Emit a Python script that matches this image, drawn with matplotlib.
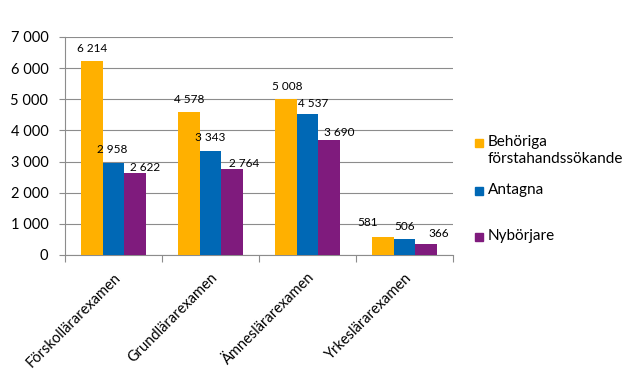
import numpy as np
import matplotlib.pyplot as plt
from matplotlib.patches import Rectangle

# data
categories = ["Förskollärarexamen", "Grundlärarexamen", "Ämneslärarexamen", "Yrkeslärarexamen"]
series_names = ["Behöriga\nförstahandssökande", "Antagna", "Nybörjare"]
behoriga = [6214, 4578, 5008, 581]
antagna = [2958, 3343, 4537, 506]
nyborjare = [2622, 2764, 3690, 366]
colors = ["#FFB000", "#0068B5", "#7F1B7D"]

yticks = [0, 1000, 2000, 3000, 4000, 5000, 6000, 7000]

# label nudges in pixels (dx, dy), like excel placed them
label_shift = [
    [(0, 13), (0, 13), (1, 13), (-16, 14)],
    [(-1, 13), (0, 13), (6, 10), (0, 13)],
    [(10, 6), (12, 5), (10, 8), (13, 10)],
]


def fmt(v):
    return "{:,}".format(v).replace(",", " ")


plt.rcParams['font.family'] = ['Lato', 'DejaVu Sans']

W, H = 641, 383
fig = plt.figure(figsize=(W / 100, H / 100), dpi=100)
ax = fig.add_axes([65 / W, 1 - 255 / H, (453 - 65) / W, (255 - 37) / H])

x = np.arange(len(categories)) + 0.5
w = 0.22
grid_col = "#8C8C8C"

for i, vals in enumerate([behoriga, antagna, nyborjare]):
    pos = x + (i - 1) * w
    bars = ax.bar(pos, vals, w, color=colors[i], zorder=3)
    for j, (b, v) in enumerate(zip(bars, vals)):
        ax.annotate(fmt(v), (b.get_x() + b.get_width() / 2, v),
                    xytext=label_shift[i][j], textcoords="offset pixels",
                    ha="center", va="center", fontsize=8.5, zorder=4)

ax.set_xlim(0, len(categories))
ax.set_ylim(0, 7000)
ax.set_yticks(yticks)
ax.set_yticklabels([fmt(t) for t in yticks], fontsize=10.5)
ax.yaxis.grid(True, color=grid_col, linewidth=0.8, zorder=0)

ax.set_xticks(np.arange(len(categories) + 1))
ax.set_xticklabels([])
ax.set_xticks(x, minor=True)
ax.set_xticklabels(categories, minor=True, rotation=45, ha="right",
                   rotation_mode="anchor", fontsize=10.5)
ax.tick_params(axis="x", which="minor", length=0, pad=11)
ax.tick_params(axis="x", which="major", length=5, color=grid_col)
ax.tick_params(axis="y", length=4, color=grid_col, pad=8)

for s in ["top", "right"]:
    ax.spines[s].set_visible(False)
ax.spines["left"].set_color(grid_col)
ax.spines["bottom"].set_color(grid_col)

# legend drawn by hand to get excel spacing
entry_y = [143, 191, 237]
for name, col, yy in zip(series_names, colors, entry_y):
    fig.patches.append(Rectangle((475 / W, 1 - (yy + 4) / H), 8 / W, 8 / H,
                                 transform=fig.transFigure, color=col))
    fig.text(488 / W, 1 - (yy - 8) / H, name, ha="left", va="top",
             fontsize=11, linespacing=1.3)

fig.savefig("out.png", dpi=100)
